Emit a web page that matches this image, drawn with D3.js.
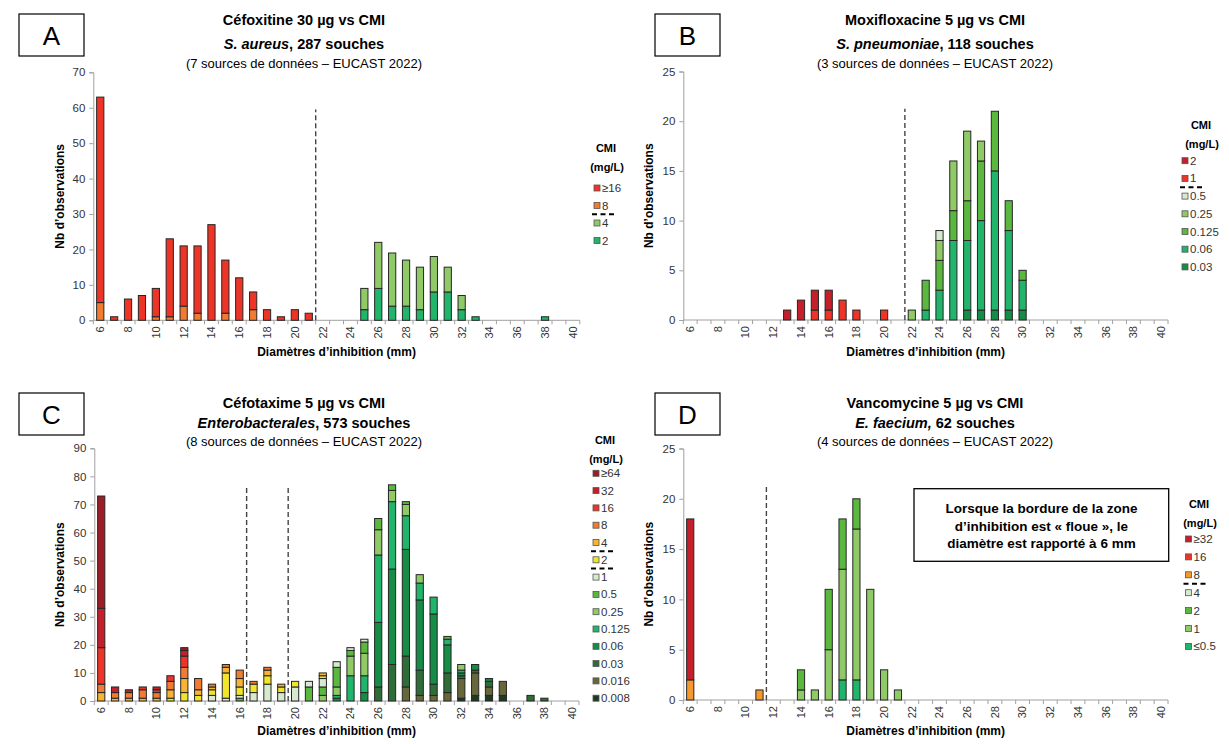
<!DOCTYPE html>
<html><head><meta charset="utf-8">
<script src="https://cdn.jsdelivr.net/npm/d3@7"></script>
<style>
body{margin:0;background:#fff;}
svg{display:block;font-family:"Liberation Sans",Arial,sans-serif;}
</style></head><body>
<svg id="chart" width="1229" height="744"></svg>
<script>
// Inhibition-zone diameters (mm), one bar per diameter
const diameters = [6,7,8,9,10,11,12,13,14,15,16,17,18,19,20,21,22,23,24,25,26,27,28,29,30,31,32,33,34,35,36,37,38,39,40];
const diameterTickLabels = [6,8,10,12,14,16,18,20,22,24,26,28,30,32,34,36,38,40];

// Panel A — Céfoxitine 30 µg, S. aureus (counts per diameter, 6..40 mm)
const cefoxMic = ["2", "4", "8", "≥16"];
const cefox_2    = [0,0,0,0,0, 0,0,0,0,0, 0,0,0,0,0, 0,0,0,0,3, 9,4,4,3,8, 8,3,1,0,0, 0,0,1,0,0];
const cefox_4    = [0,0,0,0,0, 0,0,0,0,0, 0,0,0,0,0, 0,0,0,0,6, 13,15,13,12,10, 7,4,0,0,0, 0,0,0,0,0];
const cefox_8    = [5,0,0,0,1, 1,4,2,0,2, 0,3,0,0,0, 0,0,0,0,0, 0,0,0,0,0, 0,0,0,0,0, 0,0,0,0,0];
const cefox_ge16 = [58,1,6,7,8, 22,17,19,27,15, 12,5,3,1,3, 2,0,0,0,0, 0,0,0,0,0, 0,0,0,0,0, 0,0,0,0,0];
const cefoxYTicks = [0,10,20,30,40,50,60,70];
const cefoxBreaks = [21.5];

// Panel B — Moxifloxacine 5 µg, S. pneumoniae
const moxiMic = ["0.03", "0.06", "0.125", "0.25", "0.5", "1", "2"];
const moxi_003  = [0,0,0,0,0, 0,0,0,0,0, 0,0,0,0,0, 0,0,0,0,0, 1,1,1,1,1, 0,0,0,0,0, 0,0,0,0,0];
const moxi_006  = [0,0,0,0,0, 0,0,0,0,0, 0,0,0,0,0, 0,0,1,3,8, 7,9,14,8,3, 0,0,0,0,0, 0,0,0,0,0];
const moxi_0125 = [0,0,0,0,0, 0,0,0,0,0, 0,0,0,0,0, 0,0,3,3,3, 4,6,6,3,1, 0,0,0,0,0, 0,0,0,0,0];
const moxi_025  = [0,0,0,0,0, 0,0,0,0,0, 0,0,0,0,0, 0,1,0,2,5, 7,2,0,0,0, 0,0,0,0,0, 0,0,0,0,0];
const moxi_05   = [0,0,0,0,0, 0,0,0,0,0, 0,0,0,0,0, 0,0,0,1,0, 0,0,0,0,0, 0,0,0,0,0, 0,0,0,0,0];
const moxi_1    = [0,0,0,0,0, 0,0,0,0,1, 1,2,1,0,1, 0,0,0,0,0, 0,0,0,0,0, 0,0,0,0,0, 0,0,0,0,0];
const moxi_2    = [0,0,0,0,0, 0,0,1,2,2, 2,0,0,0,0, 0,0,0,0,0, 0,0,0,0,0, 0,0,0,0,0, 0,0,0,0,0];
const moxiYTicks = [0,5,10,15,20,25];
const moxiBreaks = [21.5];

// Panel C — Céfotaxime 5 µg, Enterobacterales
const cefotMic = ["0.008","0.016","0.03","0.06","0.125","0.25","0.5","1","2","4","8","16","32","≥64"];
const cefot_0008 = [0,0,0,0,0, 0,0,0,0,0, 0,0,0,0,0, 0,0,0,0,0, 0,0,0,0,0, 0,1,2,2,2, 0,0,0,0,0];
const cefot_0016 = [0,0,0,0,0, 0,0,0,0,0, 0,0,0,0,0, 0,0,0,0,0, 0,0,5,2,2, 3,7,8,3,5, 0,0,0,0,0];
const cefot_003  = [0,0,0,0,0, 0,0,0,0,0, 0,0,0,0,0, 0,0,0,0,0, 5,13,11,9,4, 7,1,1,2,0, 0,2,1,0,0];
const cefot_006  = [0,0,0,0,0, 0,0,0,0,0, 0,0,0,0,0, 0,0,1,0,3, 23,34,38,25,25, 10,1,2,1,0, 0,0,0,0,0];
const cefot_0125 = [0,0,0,0,0, 0,0,0,0,0, 0,0,0,0,0, 0,0,1,9,6, 24,24,12,6,6, 2,1,0,0,0, 0,0,0,0,0];
const cefot_025  = [0,0,0,0,0, 0,0,0,0,0, 0,0,0,0,0, 0,2,3,7,8, 9,4,4,3,0, 0,2,0,0,0, 0,0,0,0,0];
const cefot_05   = [0,0,0,0,0, 0,0,0,0,0, 1,0,0,0,0, 5,3,7,2,4, 4,2,1,0,0, 1,0,0,0,0, 0,0,0,0,0];
const cefot_1    = [0,0,0,0,0, 0,0,0,2,1, 1,3,6,3,5, 2,3,2,1,1, 0,0,0,0,0, 0,0,0,0,0, 0,0,0,0,0];
const cefot_2    = [0,0,0,0,0, 1,3,2,2,9, 3,3,3,2,2, 0,1,0,0,0, 0,0,0,0,0, 0,0,0,0,0, 0,0,0,0,0];
const cefot_4    = [3,1,1,1,1, 3,5,2,1,2, 3,0,2,1,0, 0,1,0,0,0, 0,0,0,0,0, 0,0,0,0,0, 0,0,0,0,0];
const cefot_8    = [3,2,2,3,2, 3,4,4,1,1, 3,1,1,0,0, 0,0,0,0,0, 0,0,0,0,0, 0,0,0,0,0, 0,0,0,0,0];
const cefot_16   = [13,0,0,1,1, 2,4,0,0,0, 0,0,0,0,0, 0,0,0,0,0, 0,0,0,0,0, 0,0,0,0,0, 0,0,0,0,0];
const cefot_32   = [14,2,1,0,1, 0,2,0,0,0, 0,0,0,0,0, 0,0,0,0,0, 0,0,0,0,0, 0,0,0,0,0, 0,0,0,0,0];
const cefot_ge64 = [40,0,0,0,0, 0,1,0,0,0, 0,0,0,0,0, 0,0,0,0,0, 0,0,0,0,0, 0,0,0,0,0, 0,0,0,0,0];
const cefotYTicks = [0,10,20,30,40,50,60,70,80,90];
const cefotBreaks = [16.5, 19.5];

// Panel D — Vancomycine 5 µg, E. faecium
const vancoMic = ["≤0.5", "1", "2", "4", "8", "16", "≥32"];
const vanco_le05 = [0,0,0,0,0, 0,0,0,0,0, 0,2,2,0,0, 0,0,0,0,0, 0,0,0,0,0, 0,0,0,0,0, 0,0,0,0,0];
const vanco_1    = [0,0,0,0,0, 0,0,0,1,1, 5,11,15,11,3, 1,0,0,0,0, 0,0,0,0,0, 0,0,0,0,0, 0,0,0,0,0];
const vanco_2    = [0,0,0,0,0, 0,0,0,2,0, 6,5,3,0,0, 0,0,0,0,0, 0,0,0,0,0, 0,0,0,0,0, 0,0,0,0,0];
const vanco_4    = [0,0,0,0,0, 0,0,0,0,0, 0,0,0,0,0, 0,0,0,0,0, 0,0,0,0,0, 0,0,0,0,0, 0,0,0,0,0];
const vanco_8    = [2,0,0,0,0, 1,0,0,0,0, 0,0,0,0,0, 0,0,0,0,0, 0,0,0,0,0, 0,0,0,0,0, 0,0,0,0,0];
const vanco_16   = [0,0,0,0,0, 0,0,0,0,0, 0,0,0,0,0, 0,0,0,0,0, 0,0,0,0,0, 0,0,0,0,0, 0,0,0,0,0];
const vanco_ge32 = [16,0,0,0,0, 0,0,0,0,0, 0,0,0,0,0, 0,0,0,0,0, 0,0,0,0,0, 0,0,0,0,0, 0,0,0,0,0];
const vancoYTicks = [0,5,10,15,20,25];
const vancoBreaks = [11.5];

// MIC class colours
const micColor = {
  "≥64": "#9e1c25", "≥32": "#c3202b", "32": "#c3202b", "16": "#ee3327", "≥16": "#ee3327",
  "8": "#f07b31", "4": "#f6b430", "2": "#f1e52c", "1": "#d6eacf",
  "0.5": "#5bb83e", "0.25": "#8fca67", "0.125": "#21b46b", "0.06": "#158d46",
  "0.03": "#2e6d37", "0.016": "#67673b", "0.008": "#1d3a22"
};
// panel-specific overrides
const colorsA = {"2": "#21b46b", "4": "#8fca67", "8": "#f07b31", "≥16": "#ee3327"};
const colorsB = {"0.03": "#158d46", "0.06": "#21b46b", "0.125": "#5bb83e", "0.25": "#8fca67", "0.5": "#d6eacf", "1": "#ee3327", "2": "#c3202b"};
const colorsD = {"≤0.5": "#21b46b", "1": "#8fca67", "2": "#5bb83e", "4": "#d6eacf", "8": "#f5992f", "16": "#ee3327", "≥32": "#c3202b"};

const panels = [
  { letter: "A", box: [19, 14], titleX: 304, titleY: [25, 49, 68],
    title: "Céfoxitine 30 µg vs CMI", species: "S. aureus", strains: ", 287 souches",
    sources: "(7 sources de données – EUCAST 2022)",
    x0: 93.3, x1: 579.8, y0: 320.3, y1: 72.3, yTicks: cefoxYTicks, breaks: cefoxBreaks,
    mic: cefoxMic, values: [cefox_2, cefox_4, cefox_8, cefox_ge16], colors: colorsA,
    yLabelX: 64, xLabelY: 356,
    legend: { cx: 606, headY: 152, rowY: 188, step: 17.5, sqX: 594, dashAfter: ["8"] } },
  { letter: "B", box: [655, 14], titleX: 935, titleY: [25, 49, 68],
    title: "Moxifloxacine 5 µg vs CMI", species: "S. pneumoniae", strains: ", 118 souches",
    sources: "(3 sources de données – EUCAST 2022)",
    x0: 683.3, x1: 1168, y0: 320, y1: 71.5, yTicks: moxiYTicks, breaks: moxiBreaks,
    mic: moxiMic, values: [moxi_003, moxi_006, moxi_0125, moxi_025, moxi_05, moxi_1, moxi_2], colors: colorsB,
    yLabelX: 653, xLabelY: 356,
    legend: { cx: 1201, headY: 129, rowY: 160.7, step: 17.7, sqX: 1182, dashAfter: ["1"] } },
  { letter: "C", box: [19, 393], titleX: 304, titleY: [408, 428, 446],
    title: "Céfotaxime 5 µg vs CMI", species: "Enterobacterales", strains: ", 573 souches",
    sources: "(8 sources de données – EUCAST 2022)",
    x0: 94.3, x1: 579, y0: 701, y1: 448.3, yTicks: cefotYTicks, breaks: cefotBreaks,
    mic: cefotMic,
    values: [cefot_0008, cefot_0016, cefot_003, cefot_006, cefot_0125, cefot_025, cefot_05, cefot_1, cefot_2, cefot_4, cefot_8, cefot_16, cefot_32, cefot_ge64],
    colors: micColor,
    yLabelX: 64, xLabelY: 735,
    legend: { cx: 605, headY: 444, rowY: 473.3, step: 17.3, sqX: 593, dashAfter: ["4", "2"] } },
  { letter: "D", box: [655, 393], titleX: 935, titleY: [408, 428, 446],
    title: "Vancomycine 5 µg vs CMI", species: "E. faecium,", strains: " 62 souches",
    sources: "(4 sources de données – EUCAST 2022)",
    x0: 683.3, x1: 1168, y0: 700, y1: 448.5, yTicks: vancoYTicks, breaks: vancoBreaks,
    mic: vancoMic, values: [vanco_le05, vanco_1, vanco_2, vanco_4, vanco_8, vanco_16, vanco_ge32], colors: colorsD,
    yLabelX: 653, xLabelY: 735,
    legend: { cx: 1199, headY: 508, rowY: 539, step: 17.9, sqX: 1185.5, dashAfter: ["8"] },
    note: ["Lorsque la bordure de la zone", "d’inhibition est « floue », le", "diamètre est rapporté à 6 mm"] }
];

const svg = d3.select("#chart");
const axisGrey = "#a0a0a0";
const textDark = "#333";

function drawPanel(p) {
  const g = svg.append("g");
  const yMax = p.yTicks[p.yTicks.length - 1];
  const x = d3.scaleBand().domain(diameters).range([p.x0, p.x1]).paddingInner(0.48).paddingOuter(0.24);
  const xEdge = d3.scaleLinear().domain([5.5, 40.5]).range([p.x0, p.x1]);
  const y = d3.scaleLinear().domain([0, yMax]).range([p.y0, p.y1]);

  // panel letter
  g.append("rect").attr("x", p.box[0]).attr("y", p.box[1]).attr("width", 65).attr("height", 42)
    .attr("fill", "#fff").attr("stroke", "#000").attr("stroke-width", 1.2);
  g.append("text").attr("x", p.box[0] + 32.5).attr("y", p.box[1] + 31).attr("text-anchor", "middle")
    .attr("font-size", 26).attr("fill", "#000").text(p.letter);

  // titles
  g.append("text").attr("x", p.titleX).attr("y", p.titleY[0]).attr("text-anchor", "middle")
    .attr("font-size", 14.5).attr("font-weight", "bold").text(p.title);
  const t2 = g.append("text").attr("x", p.titleX).attr("y", p.titleY[1]).attr("text-anchor", "middle")
    .attr("font-size", 14.5).attr("font-weight", "bold");
  t2.append("tspan").attr("font-style", "italic").text(p.species);
  t2.append("tspan").text(p.strains);
  g.append("text").attr("x", p.titleX).attr("y", p.titleY[2]).attr("text-anchor", "middle")
    .attr("font-size", 13).text(p.sources);

  // y axis
  const ya = g.append("g").attr("transform", `translate(${p.x0},0)`)
    .call(d3.axisLeft(y).tickValues(p.yTicks).tickSize(4).tickPadding(4).tickFormat(d3.format("d")));
  ya.select(".domain").attr("stroke", axisGrey);
  ya.selectAll(".tick line").attr("stroke", axisGrey);
  ya.selectAll("text").attr("font-size", 11.5).attr("fill", textDark).attr("font-family", null);

  // x axis: boundary ticks between diameters, labels on even diameters
  g.append("line").attr("x1", p.x0).attr("x2", p.x1).attr("y1", p.y0).attr("y2", p.y0).attr("stroke", axisGrey);
  g.append("g").selectAll("line").data(d3.range(5.5, 41, 1)).join("line")
    .attr("x1", d => xEdge(d)).attr("x2", d => xEdge(d)).attr("y1", p.y0).attr("y2", p.y0 + 4)
    .attr("stroke", axisGrey);
  const xa = g.append("g").attr("transform", `translate(0,${p.y0})`)
    .call(d3.axisBottom(x).tickValues(diameterTickLabels).tickSize(0));
  xa.select(".domain").remove();
  xa.selectAll("text").attr("transform", "rotate(-90)").attr("text-anchor", "end")
    .attr("x", -6).attr("y", 0).attr("dy", "0.35em")
    .attr("font-size", 11).attr("fill", textDark).attr("font-family", null);

  // axis titles
  g.append("text").attr("transform", `translate(${p.yLabelX},${(p.y0 + p.y1) / 2}) rotate(-90)`)
    .attr("text-anchor", "middle").attr("font-size", 12).attr("font-weight", "bold")
    .text("Nb d’observations");
  g.append("text").attr("x", (p.x0 + p.x1) / 2).attr("y", p.xLabelY).attr("text-anchor", "middle")
    .attr("font-size", 12).attr("font-weight", "bold").text("Diamètres d’inhibition (mm)");

  // breakpoint lines
  g.append("g").selectAll("line").data(p.breaks).join("line")
    .attr("x1", d => xEdge(d)).attr("x2", d => xEdge(d))
    .attr("y1", p.y0).attr("y2", y(yMax * 0.85))
    .attr("stroke", "#444").attr("stroke-width", 1.4).attr("stroke-dasharray", "5,3");

  // stacked bars
  const rows = diameters.map((d, i) => {
    const r = { d };
    p.mic.forEach((m, k) => { r[m] = p.values[k][i]; });
    return r;
  });
  const stacked = d3.stack().keys(p.mic)(rows);
  stacked.forEach(layer => {
    g.append("g").selectAll("rect").data(layer.filter(s => s[1] - s[0] > 0)).join("rect")
      .attr("x", s => x(s.data.d)).attr("width", x.bandwidth())
      .attr("y", s => y(s[1])).attr("height", s => y(s[0]) - y(s[1]))
      .attr("fill", p.colors[layer.key]).attr("stroke", "#262626").attr("stroke-width", 1);
  });

  // legend (highest MIC first)
  const L = p.legend;
  g.append("text").attr("x", L.cx).attr("y", L.headY).attr("text-anchor", "middle")
    .attr("font-size", 11).attr("font-weight", "bold").text("CMI");
  g.append("text").attr("x", L.cx + 1).attr("y", L.headY + 19).attr("text-anchor", "middle")
    .attr("font-size", 11).attr("font-weight", "bold").text("(mg/L)");
  const order = p.mic.slice().reverse();
  order.forEach((m, i) => {
    const cy = L.rowY + i * L.step;
    g.append("rect").attr("x", L.sqX).attr("y", cy - 3).attr("width", 6).attr("height", 6)
      .attr("fill", p.colors[m]).attr("stroke", "#555").attr("stroke-width", 0.8);
    g.append("text").attr("x", L.sqX + 8).attr("y", cy + 4).attr("font-size", 11.5)
      .attr("fill", textDark).text(m);
    if (L.dashAfter.includes(m)) {
      g.append("line").attr("x1", L.sqX - 2).attr("x2", L.sqX + 22)
        .attr("y1", cy + L.step / 2).attr("y2", cy + L.step / 2)
        .attr("stroke", "#000").attr("stroke-width", 2).attr("stroke-dasharray", "5,3.5");
    }
  });

  // note box
  if (p.note) {
    g.append("rect").attr("x", 914).attr("y", 488.7).attr("width", 254.7).attr("height", 72.6)
      .attr("fill", "#fff").attr("stroke", "#000").attr("stroke-width", 1.3);
    p.note.forEach((line, i) => {
      g.append("text").attr("x", 1041.5).attr("y", 513 + i * 17.5).attr("text-anchor", "middle")
        .attr("font-size", 13.5).attr("font-weight", "bold").text(line);
    });
  }
}

panels.forEach(drawPanel);
</script>
</body></html>
